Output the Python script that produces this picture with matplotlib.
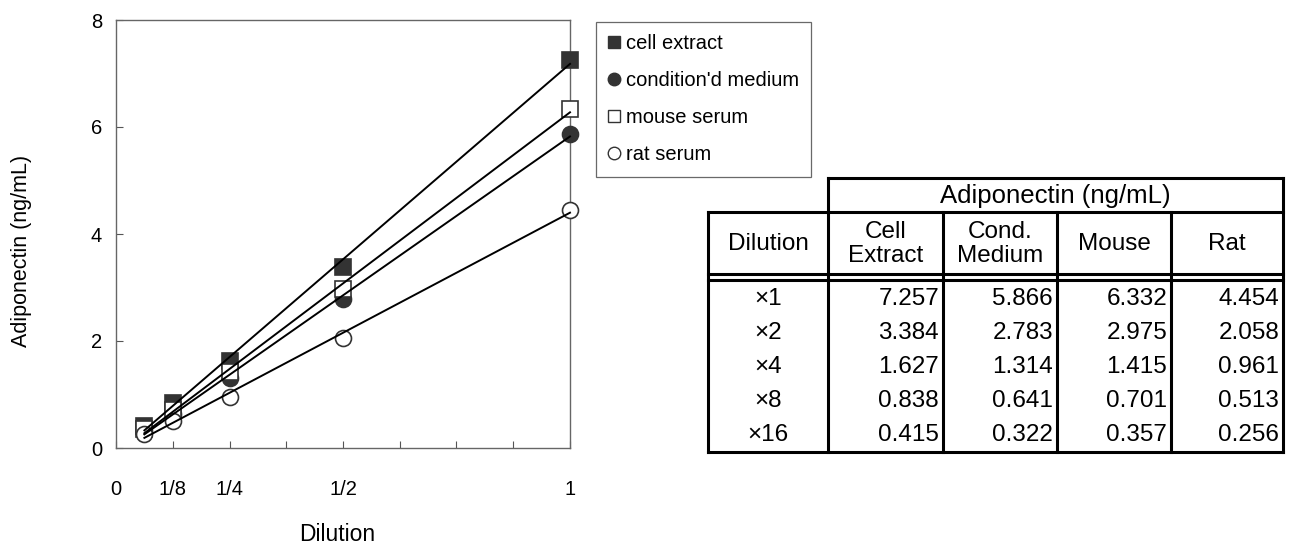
import numpy as np
import matplotlib.pyplot as plt
from matplotlib.lines import Line2D

plt.rcParams['font.family'] = ['Liberation Sans', 'DejaVu Sans']

# data
dilution = [1, 1/2, 1/4, 1/8, 1/16]
dil_labels = ['\u00d71', '\u00d72', '\u00d74', '\u00d78', '\u00d716']
cell_extract = [7.257, 3.384, 1.627, 0.838, 0.415]
cond_medium = [5.866, 2.783, 1.314, 0.641, 0.322]
mouse_serum = [6.332, 2.975, 1.415, 0.701, 0.357]
rat_serum = [4.454, 2.058, 0.961, 0.513, 0.256]
series_names = ['cell extract', "condition'd medium", 'mouse serum', 'rat serum']
col_headers = ['Cell\nExtract', 'Cond.\nMedium', 'Mouse', 'Rat']
xtick_pos = [0, 1/8, 1/4, 3/8, 1/2, 5/8, 3/4, 7/8, 1]
xtick_labels = ['0', '1/8', '1/4', '', '1/2', '', '', '', '1']

W, H = 1293, 546
fig = plt.figure(figsize=(W / 100, H / 100), dpi=100)
ax = fig.add_axes([116 / W, (H - 448) / H, (570 - 116) / W, (448 - 20) / H])

dark = '#333333'
styles = [('s', dark), ('o', dark), ('s', 'white'), ('o', 'white')]
all_series = [cell_extract, cond_medium, mouse_serum, rat_serum]

x = np.array(dilution)
for vals, (mk, fc) in zip(all_series, styles):
    ax.plot(x, vals, linestyle='none', marker=mk, markersize=11.5,
            markerfacecolor=fc, markeredgecolor=dark, markeredgewidth=1.2,
            clip_on=False, zorder=3)
# linear fit lines drawn over the markers
for vals in all_series:
    k, b = np.polyfit(x, vals, 1)
    xs = np.array([x.min(), x.max()])
    ax.plot(xs, k * xs + b, color='black', lw=1.4, zorder=4, clip_on=False)

ax.set_xlim(0, 1)
ax.set_ylim(0, 8)
ax.set_xticks(xtick_pos)
ax.set_xticklabels(xtick_labels)
ax.set_yticks([0, 2, 4, 6, 8])
ax.tick_params(direction='in', length=5, color='#555555', labelsize=14.5)
ax.tick_params(axis='x', pad=23)
ax.tick_params(axis='y', pad=10)
for sp in ax.spines.values():
    sp.set_color('#666666')
    sp.set_linewidth(1.0)
ax.set_xlabel('Dilution', fontsize=16.5)
ax.set_ylabel('Adiponectin (ng/mL)', fontsize=15.5)
ax.xaxis.set_label_coords(0.487, -0.176)
ax.yaxis.set_label_coords(-0.184, 0.46)

# legend
handles = [Line2D([], [], linestyle='none', marker=mk, markersize=9,
                  markerfacecolor=fc, markeredgecolor=dark, markeredgewidth=1.0)
           for mk, fc in styles]
leg = fig.legend(handles, series_names, loc='upper left',
                 bbox_to_anchor=(596 / W, 1 - 22 / H), fontsize=14.5,
                 frameon=True, fancybox=False, edgecolor='#444444',
                 labelspacing=0.9, handlelength=0.6, handletextpad=0.3,
                 borderpad=0.6, borderaxespad=0)
leg.get_frame().set_linewidth(0.9)

# table
tab = fig.add_axes([700 / W, (H - 460) / H, 593 / W, 290 / H])
tab.set_xlim(700, 1293)
tab.set_ylim(460, 170)
tab.axis('off')

cols = [708, 828, 943, 1057, 1171, 1283]
lw = 2.2
kw = dict(color='black', lw=lw, solid_capstyle='projecting', clip_on=False)
tab.plot([828, 1283], [178, 178], **kw)
tab.plot([708, 1283], [212, 212], **kw)
tab.plot([708, 1283], [274, 274], **kw)
tab.plot([708, 1283], [280, 280], **kw)
tab.plot([708, 1283], [452, 452], **kw)
tab.plot([708, 708], [212, 452], **kw)
tab.plot([828, 828], [178, 452], **kw)
tab.plot([1283, 1283], [178, 452], **kw)
for cx in cols[2:5]:
    tab.plot([cx, cx], [212, 452], **kw)

fs = 17.5
tab.text((828 + 1283) / 2, 196, 'Adiponectin (ng/mL)', ha='center', va='center', fontsize=18.5)
tab.text((708 + 828) / 2, 244, 'Dilution', ha='center', va='center', fontsize=fs)
for i, h in enumerate(col_headers):
    tab.text((cols[i + 1] + cols[i + 2]) / 2, 244, h, ha='center', va='center',
             fontsize=fs, linespacing=1.1)

for r, lab in enumerate(dil_labels):
    yc = 299 + r * 34
    tab.text((708 + 828) / 2, yc, lab, ha='center', va='center', fontsize=fs)
    for c, vals in enumerate(all_series):
        tab.text(cols[c + 2] - 4, yc, f'{vals[r]:.3f}', ha='right', va='center', fontsize=fs)

fig.savefig('out.png', dpi=100)
